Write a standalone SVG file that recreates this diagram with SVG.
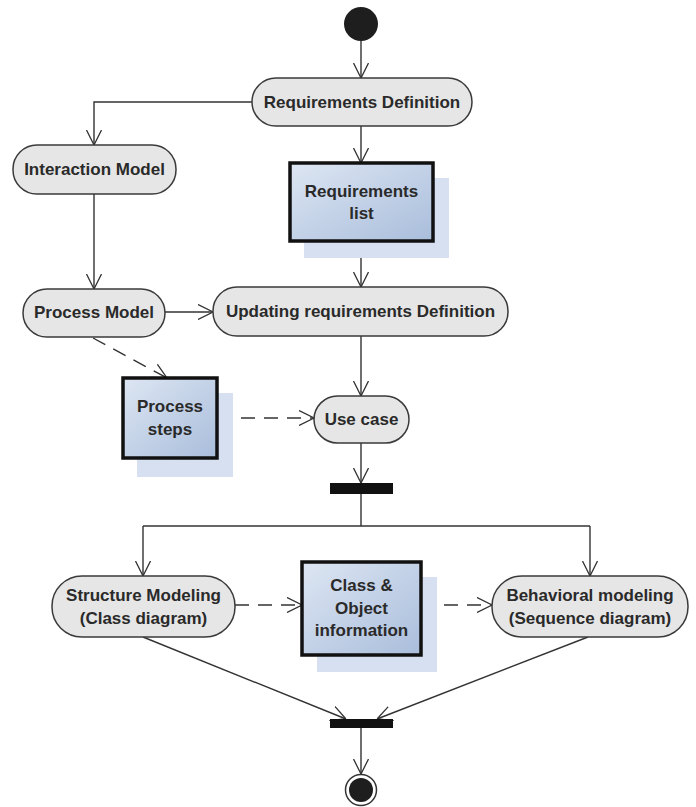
<svg xmlns="http://www.w3.org/2000/svg" width="696" height="807" viewBox="0 0 696 807">
<defs>
<linearGradient id="boxg" x1="0" y1="0" x2="1" y2="1">
<stop offset="0" stop-color="#dde6f3"/>
<stop offset="1" stop-color="#a9bddb"/>
</linearGradient>
<marker id="arr" viewBox="0 0 15 16" refX="15" refY="8" markerWidth="15" markerHeight="16" markerUnits="userSpaceOnUse" orient="auto">
<path d="M0,0.5 L15,8 L0,15.5" fill="none" stroke="#333" stroke-width="1.3"/>
</marker>
</defs>
<style>
.pill{fill:#e6e6e6;stroke:#3a3a3a;stroke-width:1.5}
.box{fill:url(#boxg);stroke:#111;stroke-width:3.5}
.shadow{fill:#d6e0f0}
.t{font-family:"Liberation Sans",Arial,sans-serif;font-weight:bold;font-size:17px;fill:#2a2a2a;text-anchor:middle}
.c{fill:none;stroke:#333;stroke-width:1.4}
.d{stroke-dasharray:14 9}
</style>
<rect width="696" height="807" fill="#fff"/>
<g id="connectors">
<path class="c" d="M361,41 L361,78" marker-end="url(#arr)"/>
<path class="c" d="M252,102 L94,102 L94,145" marker-end="url(#arr)"/>
<path class="c" d="M361,126 L361,163" marker-end="url(#arr)"/>
<path class="c" d="M94,194 L94,289" marker-end="url(#arr)"/>
<path class="c" d="M361,241 L361,287" marker-end="url(#arr)"/>
<path class="c" d="M165,312 L213,312" marker-end="url(#arr)"/>
<path class="c d" d="M93,338 L167,378" marker-end="url(#arr)"/>
<path class="c" d="M361,336 L361,396" marker-end="url(#arr)"/>
<path class="c d" d="M218,418 L314,418" marker-end="url(#arr)"/>
<path class="c" d="M361,443 L361,483" marker-end="url(#arr)"/>
<path class="c" d="M361,494 L361,526"/>
<path class="c" d="M143,526 L590,526"/>
<path class="c" d="M143,526 L143,576" marker-end="url(#arr)"/>
<path class="c" d="M590,526 L590,576" marker-end="url(#arr)"/>
<path class="c d" d="M235,605 L302,605" marker-end="url(#arr)"/>
<path class="c d" d="M421,605 L492,605" marker-end="url(#arr)"/>
<path class="c" d="M143,637 L346,719" marker-end="url(#arr)"/>
<path class="c" d="M588,637 L377,719" marker-end="url(#arr)"/>
<path class="c" d="M361,728 L361,774" marker-end="url(#arr)"/>
</g>
<g id="start"><circle cx="361" cy="24" r="17" fill="#1e1e1e"/></g>
<g id="req-def">
<rect class="pill" x="252" y="78" width="220" height="48" rx="24"/>
<text class="t" x="362" y="108">Requirements Definition</text>
</g>
<g id="interaction-model">
<rect class="pill" x="13" y="145" width="163" height="49" rx="24"/>
<text class="t" x="94.5" y="175">Interaction Model</text>
</g>
<g id="req-list">
<rect class="shadow" x="304" y="178" width="145" height="80"/>
<rect class="box" x="290" y="163" width="143" height="78"/>
<text class="t" x="361.5" y="197">Requirements</text>
<text class="t" x="361.5" y="219">list</text>
</g>
<g id="process-model">
<rect class="pill" x="23" y="289" width="142" height="48" rx="24"/>
<text class="t" x="94" y="318">Process Model</text>
</g>
<g id="updating">
<rect class="pill" x="213" y="287" width="295" height="49" rx="24"/>
<text class="t" x="360.5" y="317">Updating requirements Definition</text>
</g>
<g id="process-steps">
<rect class="shadow" x="137" y="393" width="96" height="84"/>
<rect class="box" x="123" y="378" width="94" height="80"/>
<text class="t" x="170" y="412">Process</text>
<text class="t" x="170" y="435">steps</text>
</g>
<g id="use-case">
<rect class="pill" x="314" y="396" width="95" height="47" rx="23.5"/>
<text class="t" x="361.5" y="425">Use case</text>
</g>
<g id="fork"><rect x="330" y="483" width="63" height="11" fill="#111"/></g>
<g id="structure">
<rect class="pill" x="52" y="576" width="183" height="61" rx="30"/>
<text class="t" x="143.5" y="601">Structure Modeling</text>
<text class="t" x="143.5" y="624">(Class diagram)</text>
</g>
<g id="class-object">
<rect class="shadow" x="317" y="577" width="120" height="95"/>
<rect class="box" x="302" y="562" width="119" height="93"/>
<text class="t" x="361.5" y="591">Class &amp;</text>
<text class="t" x="361.5" y="614">Object</text>
<text class="t" x="361.5" y="636">information</text>
</g>
<g id="behavioral">
<rect class="pill" x="492" y="576" width="196" height="61" rx="30"/>
<text class="t" x="590" y="601">Behavioral modeling</text>
<text class="t" x="590" y="624">(Sequence diagram)</text>
</g>
<g id="join"><rect x="330" y="719" width="63" height="9" fill="#111"/></g>
<g id="end">
<circle cx="361" cy="790" r="15.5" fill="#fff" stroke="#333" stroke-width="1.5"/>
<circle cx="361" cy="790" r="12" fill="#1e1e1e"/>
</g>
</svg>
